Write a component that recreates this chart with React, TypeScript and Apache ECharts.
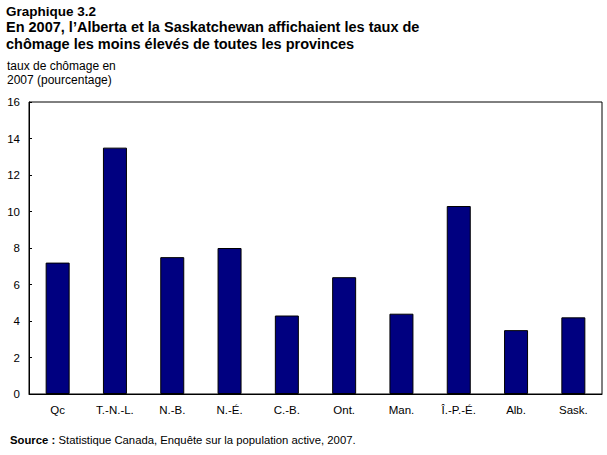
import React, { useEffect, useRef } from "react";
import * as echarts from "echarts";

const categories = ["Qc", "T.-N.-L.", "N.-B.", "N.-É.", "C.-B.", "Ont.", "Man.", "Î.-P.-É.", "Alb.", "Sask."];
const rates = [7.2, 13.5, 7.5, 8.0, 4.3, 6.4, 4.4, 10.3, 3.5, 4.2];
const yTicks = [0, 2, 4, 6, 8, 10, 12, 14, 16];

const titleHead = "Graphique 3.2";
const titleLines = [
  "En 2007, l\u2019Alberta et la Saskatchewan affichaient les taux de",
  "chômage les moins élevés de toutes les provinces",
];
const unitLines = ["taux de chômage en", "2007 (pourcentage)"];

export default function App() {
  const ref = useRef<HTMLDivElement>(null);
  useEffect(() => {
    if (!ref.current) return;
    const chart = echarts.init(ref.current, null, { renderer: "svg" });
    const font = "'Liberation Sans', Arial, sans-serif";
    chart.setOption({
      animation: false,
      backgroundColor: "#fff",
      textStyle: { fontFamily: font },
      grid: {
        left: 29,
        right: 5,
        top: 102,
        bottom: 61,
        show: true,
        borderColor: "#000",
        borderWidth: 1,
        containLabel: false,
      },
      graphic: [
        {
          type: "text",
          left: 6,
          top: 4,
          style: {
            text: titleHead,
            font: `bold 13.5px ${font}`,
            fill: "#000",
          },
        },
        {
          type: "text",
          left: 6,
          top: 18,
          style: {
            text: titleLines.join("\n"),
            font: `bold 14.5px ${font}`,
            lineHeight: 17,
            fill: "#000",
          },
        },
        {
          type: "text",
          left: 7,
          top: 59,
          style: {
            text: unitLines.join("\n"),
            font: `12px ${font}`,
            lineHeight: 14,
            fill: "#000",
          },
        },
        {
          type: "text",
          left: 10,
          top: 434,
          style: {
            rich: {
              b: { font: `bold 11.3px ${font}`, fill: "#000" },
              n: { font: `11.3px ${font}`, fill: "#000" },
            },
            text: "{b|Source :} {n|Statistique Canada, Enquête sur la population active, 2007.}",
          },
        },
      ],
      xAxis: {
        type: "category",
        data: categories,
        axisLine: { lineStyle: { color: "#000", width: 1 } },
        axisTick: { show: false },
        axisLabel: { color: "#000", fontSize: 11.5, margin: 10, fontFamily: font },
        splitLine: { show: false },
      },
      yAxis: {
        type: "value",
        min: 0,
        max: 16,
        interval: 2,
        axisLine: { show: true, lineStyle: { color: "#000", width: 1 } },
        axisTick: { show: true, inside: true, length: 3, lineStyle: { color: "#000" } },
        axisLabel: {
          color: "#000",
          fontSize: 11.5,
          margin: 9,
          fontFamily: font,
          formatter: (v: number) => (yTicks.includes(v) ? String(v) : ""),
        },
        splitLine: { show: false },
      },
      series: [
        {
          type: "bar",
          data: rates,
          barWidth: 24,
          itemStyle: { color: "#000080", borderColor: "#000", borderWidth: 1 },
        },
      ],
    });
    return () => chart.dispose();
  }, []);
  return <div ref={ref} style={{ width: 607, height: 455, position: "absolute", left: 0, top: 0 }} />;
}
